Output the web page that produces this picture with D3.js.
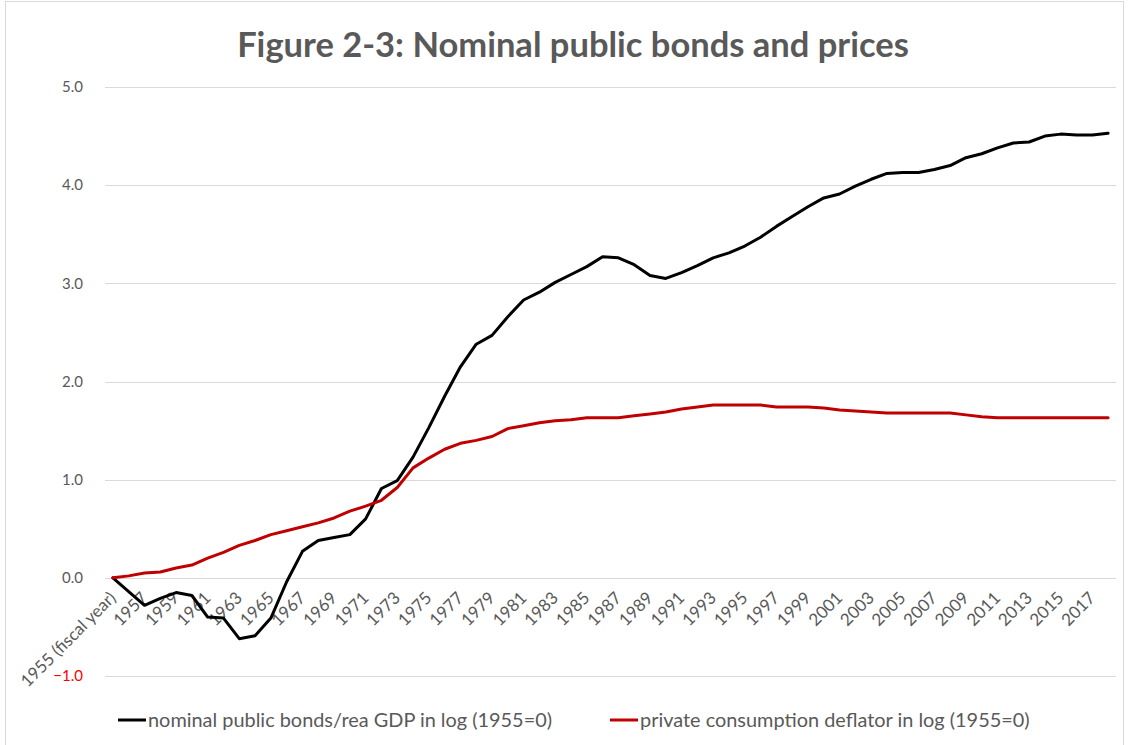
<!DOCTYPE html>
<html>
<head>
<meta charset="utf-8">
<script src="https://cdn.jsdelivr.net/npm/d3@7"></script>
<style>
  body { margin: 0; background: #fff; }
  text { font-family: Lato, "Open Sans", sans-serif; }
</style>
</head>
<body>
<script>
var width = 1129;
var height = 745;

// fiscal years 1955..2018
var years = d3.range(1955, 2019);

var bonds = [0, -0.14, -0.28, -0.21, -0.15, -0.18, -0.40, -0.41, -0.62, -0.59,
    -0.41, -0.04, 0.27, 0.38, 0.41, 0.44, 0.60, 0.91, 0.99, 1.23,
    1.53, 1.85, 2.15, 2.38, 2.47, 2.66, 2.83, 2.91, 3.01, 3.09,
    3.17, 3.27, 3.26, 3.19, 3.08, 3.05, 3.11, 3.18, 3.26, 3.31,
    3.38, 3.47, 3.58, 3.68, 3.78, 3.87, 3.91, 3.99, 4.06, 4.12,
    4.13, 4.13, 4.16, 4.20, 4.28, 4.32, 4.38, 4.43, 4.44, 4.50,
    4.52, 4.51, 4.51, 4.53];

var deflator = [0, 0.02, 0.05, 0.06, 0.10, 0.13, 0.20, 0.26, 0.33, 0.38,
    0.44, 0.48, 0.52, 0.56, 0.61, 0.68, 0.73, 0.79, 0.92, 1.12,
    1.22, 1.31, 1.37, 1.40, 1.44, 1.52, 1.55, 1.58, 1.60, 1.61,
    1.63, 1.63, 1.63, 1.65, 1.67, 1.69, 1.72, 1.74, 1.76, 1.76,
    1.76, 1.76, 1.74, 1.74, 1.74, 1.73, 1.71, 1.70, 1.69, 1.68,
    1.68, 1.68, 1.68, 1.68, 1.66, 1.64, 1.63, 1.63, 1.63, 1.63,
    1.63, 1.63, 1.63, 1.63];

var yTicks = [-1, 0, 1, 2, 3, 4, 5];
var seriesNames = ["nominal public bonds/rea GDP in log (1955=0)", "private consumption deflator in log (1955=0)"];
var seriesColors = ["#000000", "#c00000"];

var svg = d3.select("body").append("svg").attr("width", width).attr("height", height);

// chart border
svg.append("rect")
    .attr("x", 5.5).attr("y", 1.5).attr("width", 1118).attr("height", 760)
    .attr("fill", "none").attr("stroke", "#d9d9d9");

var x = d3.scaleBand().domain(years).range([105, 1116]);
var y = d3.scaleLinear().domain([-1, 5]).range([676, 87]);
function cx(yr) { return x(yr) + x.bandwidth() / 2; }

// gridlines
svg.append("g").selectAll("line").data(yTicks).enter().append("line")
    .attr("x1", 105).attr("x2", 1116)
    .attr("y1", function (d) { return Math.round(y(d)) + 0.5; })
    .attr("y2", function (d) { return Math.round(y(d)) + 0.5; })
    .attr("stroke", "#d9d9d9").attr("stroke-width", 1);

// y axis labels
var yAxis = d3.axisLeft(y).tickValues(yTicks).tickSize(0).tickPadding(0)
    .tickFormat(d3.format(".1f"));
var gy = svg.append("g").attr("transform", "translate(83,0)").call(yAxis);
gy.select(".domain").remove();
gy.selectAll("text")
    .attr("font-size", 15)
    .attr("font-family", "Lato, sans-serif")
    .attr("fill", function (d) { return d < 0 ? "#ff0000" : "#595959"; });

// x axis labels (every second year), rotated
var labelYears = years.filter(function (d, i) { return i % 2 === 0; });
svg.append("g").selectAll("text").data(labelYears).enter().append("text")
    .text(function (d) { return d === 1955 ? "1955 (fiscal year)" : d; })
    .attr("text-anchor", "end")
    .attr("font-size", 17)
    .attr("fill", "#595959")
    .attr("transform", function (d) { return "translate(" + (cx(d) + 4) + ",599) rotate(-45)"; });

// lines
var series = [bonds, deflator];
var line = d3.line()
    .x(function (d, i) { return cx(years[i]); })
    .y(function (d) { return y(d); });

svg.append("g").selectAll("path").data(series).enter().append("path")
    .attr("d", line)
    .attr("fill", "none")
    .attr("stroke", function (d, i) { return seriesColors[i]; })
    .attr("stroke-width", 3)
    .attr("stroke-linejoin", "round")
    .attr("stroke-linecap", "round");

// title
svg.append("text")
    .text("Figure 2-3: Nominal public bonds and prices")
    .attr("x", 573).attr("y", 57)
    .attr("text-anchor", "middle")
    .attr("font-size", 34.5)
    .attr("font-weight", "bold")
    .attr("fill", "#595959");

// legend
var legendX = [118, 610];
var lg = svg.append("g").selectAll("g").data(seriesNames).enter().append("g")
    .attr("transform", function (d, i) { return "translate(" + legendX[i] + ",720)"; });
lg.append("line")
    .attr("x1", 0).attr("x2", 28).attr("y1", 0).attr("y2", 0)
    .attr("stroke", function (d, i) { return seriesColors[i]; })
    .attr("stroke-width", 3);
lg.append("text")
    .text(function (d) { return d; })
    .attr("x", 30).attr("y", 7)
    .attr("font-size", 19.9)
    .attr("fill", "#595959");
</script>
</body>
</html>
